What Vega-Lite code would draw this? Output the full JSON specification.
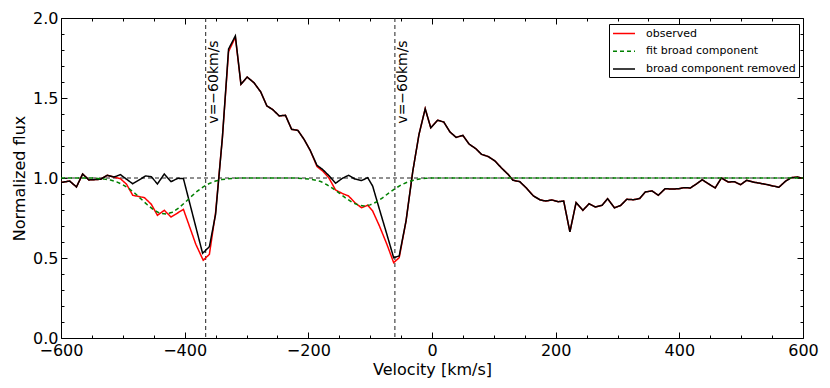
{
  "$schema": "https://vega.github.io/schema/vega-lite/v6.json",
  "width": 742,
  "height": 320,
  "autosize": {"type": "none"},
  "padding": {"left": 61, "top": 18, "right": 27, "bottom": 50},
  "background": "white",
  "config": {
    "view": {"stroke": "black", "strokeWidth": 1},
    "font": "DejaVu Sans",
    "axis": {"grid": false, "domain": false, "tickColor": "black", "tickWidth": 1, "labelColor": "black", "titleColor": "black", "labelFont": "DejaVu Sans", "titleFont": "DejaVu Sans", "labelFontSize": 16, "titleFontSize": 16, "titleFontWeight": "normal", "labelFlush": false, "labelOverlap": false}
  },
  "data": {"values": [
    {"s":"vline","v":-366,"ty":1.6,"label":"v=−60km/s"},
    {"s":"vline","v":-60,"ty":1.6,"label":"v=−60km/s"},
    {"s":"hline","f":1},

    {"s":"broad component removed","v":-600,"f":0.972},
    {"s":"broad component removed","v":-586,"f":0.981},
    {"s":"broad component removed","v":-575,"f":0.944},
    {"s":"broad component removed","v":-565,"f":1.025},
    {"s":"broad component removed","v":-555,"f":0.988},
    {"s":"broad component removed","v":-536,"f":0.992},
    {"s":"broad component removed","v":-525,"f":1.017},
    {"s":"broad component removed","v":-514,"f":1.006},
    {"s":"broad component removed","v":-504,"f":1.021},
    {"s":"broad component removed","v":-484,"f":0.964},
    {"s":"broad component removed","v":-463,"f":1.013},
    {"s":"broad component removed","v":-454,"f":1.008},
    {"s":"broad component removed","v":-444,"f":0.963},
    {"s":"broad component removed","v":-433,"f":1.025},
    {"s":"broad component removed","v":-422,"f":0.977},
    {"s":"broad component removed","v":-411,"f":0.998},
    {"s":"broad component removed","v":-402,"f":0.996},
    {"s":"broad component removed","v":-371,"f":0.529},
    {"s":"broad component removed","v":-360,"f":0.571},
    {"s":"broad component removed","v":-350,"f":0.773},
    {"s":"broad component removed","v":-339,"f":1.252},
    {"s":"broad component removed","v":-329,"f":1.806},
    {"s":"broad component removed","v":-318,"f":1.888},
    {"s":"broad component removed","v":-309,"f":1.586},
    {"s":"broad component removed","v":-299,"f":1.631},
    {"s":"broad component removed","v":-288,"f":1.596},
    {"s":"broad component removed","v":-277,"f":1.538},
    {"s":"broad component removed","v":-267,"f":1.45},
    {"s":"broad component removed","v":-258,"f":1.429},
    {"s":"broad component removed","v":-247,"f":1.388},
    {"s":"broad component removed","v":-237,"f":1.392},
    {"s":"broad component removed","v":-227,"f":1.304},
    {"s":"broad component removed","v":-217,"f":1.298},
    {"s":"broad component removed","v":-207,"f":1.242},
    {"s":"broad component removed","v":-197,"f":1.173},
    {"s":"broad component removed","v":-186,"f":1.079},
    {"s":"broad component removed","v":-177,"f":1.054},
    {"s":"broad component removed","v":-167,"f":1.016},
    {"s":"broad component removed","v":-156,"f":0.967},
    {"s":"broad component removed","v":-145,"f":0.998},
    {"s":"broad component removed","v":-135,"f":1.017},
    {"s":"broad component removed","v":-125,"f":0.994},
    {"s":"broad component removed","v":-114,"f":0.984},
    {"s":"broad component removed","v":-104,"f":1.002},
    {"s":"broad component removed","v":-96,"f":0.95},
    {"s":"broad component removed","v":-85,"f":0.804},
    {"s":"broad component removed","v":-73,"f":0.648},
    {"s":"broad component removed","v":-62,"f":0.502},
    {"s":"broad component removed","v":-53,"f":0.513},
    {"s":"broad component removed","v":-42,"f":0.731},
    {"s":"broad component removed","v":-31,"f":1.044},
    {"s":"broad component removed","v":-21,"f":1.273},
    {"s":"broad component removed","v":-11,"f":1.433},
    {"s":"broad component removed","v":-2,"f":1.314},
    {"s":"broad component removed","v":9,"f":1.361},
    {"s":"broad component removed","v":19,"f":1.35},
    {"s":"broad component removed","v":29,"f":1.288},
    {"s":"broad component removed","v":39,"f":1.254},
    {"s":"broad component removed","v":50,"f":1.266},
    {"s":"broad component removed","v":60,"f":1.212},
    {"s":"broad component removed","v":71,"f":1.183},
    {"s":"broad component removed","v":80,"f":1.148},
    {"s":"broad component removed","v":91,"f":1.134},
    {"s":"broad component removed","v":102,"f":1.106},
    {"s":"broad component removed","v":112,"f":1.064},
    {"s":"broad component removed","v":123,"f":1.023},
    {"s":"broad component removed","v":131,"f":0.986},
    {"s":"broad component removed","v":142,"f":0.977},
    {"s":"broad component removed","v":153,"f":0.936},
    {"s":"broad component removed","v":164,"f":0.888},
    {"s":"broad component removed","v":175,"f":0.863},
    {"s":"broad component removed","v":184,"f":0.856},
    {"s":"broad component removed","v":194,"f":0.863},
    {"s":"broad component removed","v":204,"f":0.852},
    {"s":"broad component removed","v":213,"f":0.856},
    {"s":"broad component removed","v":223,"f":0.663},
    {"s":"broad component removed","v":233,"f":0.846},
    {"s":"broad component removed","v":244,"f":0.798},
    {"s":"broad component removed","v":254,"f":0.839},
    {"s":"broad component removed","v":264,"f":0.819},
    {"s":"broad component removed","v":275,"f":0.829},
    {"s":"broad component removed","v":284,"f":0.871},
    {"s":"broad component removed","v":295,"f":0.814},
    {"s":"broad component removed","v":305,"f":0.828},
    {"s":"broad component removed","v":315,"f":0.867},
    {"s":"broad component removed","v":326,"f":0.864},
    {"s":"broad component removed","v":336,"f":0.872},
    {"s":"broad component removed","v":345,"f":0.913},
    {"s":"broad component removed","v":356,"f":0.919},
    {"s":"broad component removed","v":366,"f":0.892},
    {"s":"broad component removed","v":377,"f":0.933},
    {"s":"broad component removed","v":388,"f":0.931},
    {"s":"broad component removed","v":399,"f":0.933},
    {"s":"broad component removed","v":407,"f":0.939},
    {"s":"broad component removed","v":418,"f":0.938},
    {"s":"broad component removed","v":428,"f":0.964},
    {"s":"broad component removed","v":437,"f":0.989},
    {"s":"broad component removed","v":447,"f":0.964},
    {"s":"broad component removed","v":458,"f":0.938},
    {"s":"broad component removed","v":468,"f":1.0},
    {"s":"broad component removed","v":479,"f":0.975},
    {"s":"broad component removed","v":489,"f":0.977},
    {"s":"broad component removed","v":499,"f":0.958},
    {"s":"broad component removed","v":509,"f":0.986},
    {"s":"broad component removed","v":519,"f":0.975},
    {"s":"broad component removed","v":539,"f":0.961},
    {"s":"broad component removed","v":561,"f":0.942},
    {"s":"broad component removed","v":572,"f":0.981},
    {"s":"broad component removed","v":581,"f":1.002},
    {"s":"broad component removed","v":591,"f":1.006},
    {"s":"broad component removed","v":600,"f":0.998},

    {"s":"observed","v":-600,"f":0.972},
    {"s":"observed","v":-586,"f":0.981},
    {"s":"observed","v":-575,"f":0.944},
    {"s":"observed","v":-565,"f":1.025},
    {"s":"observed","v":-555,"f":0.988},
    {"s":"observed","v":-536,"f":0.992},
    {"s":"observed","v":-525,"f":1.017},
    {"s":"observed","v":-514,"f":1.006},
    {"s":"observed","v":-504,"f":0.996},
    {"s":"observed","v":-494,"f":0.961},
    {"s":"observed","v":-484,"f":0.892},
    {"s":"observed","v":-465,"f":0.877},
    {"s":"observed","v":-454,"f":0.836},
    {"s":"observed","v":-444,"f":0.767},
    {"s":"observed","v":-433,"f":0.798},
    {"s":"observed","v":-422,"f":0.756},
    {"s":"observed","v":-402,"f":0.804},
    {"s":"observed","v":-382,"f":0.586},
    {"s":"observed","v":-370,"f":0.486},
    {"s":"observed","v":-360,"f":0.523},
    {"s":"observed","v":-350,"f":0.783},
    {"s":"observed","v":-339,"f":1.252},
    {"s":"observed","v":-329,"f":1.79},
    {"s":"observed","v":-318,"f":1.88},
    {"s":"observed","v":-309,"f":1.586},
    {"s":"observed","v":-299,"f":1.631},
    {"s":"observed","v":-288,"f":1.596},
    {"s":"observed","v":-277,"f":1.538},
    {"s":"observed","v":-267,"f":1.45},
    {"s":"observed","v":-258,"f":1.429},
    {"s":"observed","v":-247,"f":1.388},
    {"s":"observed","v":-237,"f":1.392},
    {"s":"observed","v":-227,"f":1.304},
    {"s":"observed","v":-217,"f":1.298},
    {"s":"observed","v":-207,"f":1.242},
    {"s":"observed","v":-197,"f":1.173},
    {"s":"observed","v":-186,"f":1.072},
    {"s":"observed","v":-177,"f":1.044},
    {"s":"observed","v":-167,"f":1.002},
    {"s":"observed","v":-156,"f":0.925},
    {"s":"observed","v":-145,"f":0.903},
    {"s":"observed","v":-135,"f":0.888},
    {"s":"observed","v":-125,"f":0.847},
    {"s":"observed","v":-114,"f":0.814},
    {"s":"observed","v":-104,"f":0.83},
    {"s":"observed","v":-96,"f":0.794},
    {"s":"observed","v":-85,"f":0.7},
    {"s":"observed","v":-73,"f":0.586},
    {"s":"observed","v":-62,"f":0.471},
    {"s":"observed","v":-53,"f":0.502},
    {"s":"observed","v":-42,"f":0.731},
    {"s":"observed","v":-31,"f":1.044},
    {"s":"observed","v":-21,"f":1.273},
    {"s":"observed","v":-11,"f":1.433},
    {"s":"observed","v":-2,"f":1.314},
    {"s":"observed","v":9,"f":1.361},
    {"s":"observed","v":19,"f":1.35},
    {"s":"observed","v":29,"f":1.288},
    {"s":"observed","v":39,"f":1.254},
    {"s":"observed","v":50,"f":1.266},
    {"s":"observed","v":60,"f":1.212},
    {"s":"observed","v":71,"f":1.183},
    {"s":"observed","v":80,"f":1.148},
    {"s":"observed","v":91,"f":1.134},
    {"s":"observed","v":102,"f":1.106},
    {"s":"observed","v":112,"f":1.064},
    {"s":"observed","v":123,"f":1.023},
    {"s":"observed","v":131,"f":0.986},
    {"s":"observed","v":142,"f":0.977},
    {"s":"observed","v":153,"f":0.936},
    {"s":"observed","v":164,"f":0.888},
    {"s":"observed","v":175,"f":0.863},
    {"s":"observed","v":184,"f":0.856},
    {"s":"observed","v":194,"f":0.863},
    {"s":"observed","v":204,"f":0.852},
    {"s":"observed","v":213,"f":0.856},
    {"s":"observed","v":223,"f":0.663},
    {"s":"observed","v":233,"f":0.846},
    {"s":"observed","v":244,"f":0.798},
    {"s":"observed","v":254,"f":0.839},
    {"s":"observed","v":264,"f":0.819},
    {"s":"observed","v":275,"f":0.829},
    {"s":"observed","v":284,"f":0.871},
    {"s":"observed","v":295,"f":0.814},
    {"s":"observed","v":305,"f":0.828},
    {"s":"observed","v":315,"f":0.867},
    {"s":"observed","v":326,"f":0.864},
    {"s":"observed","v":336,"f":0.872},
    {"s":"observed","v":345,"f":0.913},
    {"s":"observed","v":356,"f":0.919},
    {"s":"observed","v":366,"f":0.892},
    {"s":"observed","v":377,"f":0.933},
    {"s":"observed","v":388,"f":0.931},
    {"s":"observed","v":399,"f":0.933},
    {"s":"observed","v":407,"f":0.939},
    {"s":"observed","v":418,"f":0.938},
    {"s":"observed","v":428,"f":0.964},
    {"s":"observed","v":437,"f":0.989},
    {"s":"observed","v":447,"f":0.964},
    {"s":"observed","v":458,"f":0.938},
    {"s":"observed","v":468,"f":1.0},
    {"s":"observed","v":479,"f":0.975},
    {"s":"observed","v":489,"f":0.977},
    {"s":"observed","v":499,"f":0.958},
    {"s":"observed","v":509,"f":0.986},
    {"s":"observed","v":519,"f":0.975},
    {"s":"observed","v":539,"f":0.961},
    {"s":"observed","v":561,"f":0.942},
    {"s":"observed","v":572,"f":0.981},
    {"s":"observed","v":581,"f":1.002},
    {"s":"observed","v":591,"f":1.006},
    {"s":"observed","v":600,"f":0.998},

    {"s":"fit broad component","v":-600,"f":1.0},
    {"s":"fit broad component","v":-550,"f":1.0},
    {"s":"fit broad component","v":-540,"f":0.997},
    {"s":"fit broad component","v":-530,"f":0.993},
    {"s":"fit broad component","v":-520,"f":0.987},
    {"s":"fit broad component","v":-510,"f":0.976},
    {"s":"fit broad component","v":-500,"f":0.958},
    {"s":"fit broad component","v":-490,"f":0.934},
    {"s":"fit broad component","v":-480,"f":0.903},
    {"s":"fit broad component","v":-470,"f":0.867},
    {"s":"fit broad component","v":-460,"f":0.831},
    {"s":"fit broad component","v":-450,"f":0.8},
    {"s":"fit broad component","v":-440,"f":0.78},
    {"s":"fit broad component","v":-430,"f":0.775},
    {"s":"fit broad component","v":-420,"f":0.786},
    {"s":"fit broad component","v":-410,"f":0.811},
    {"s":"fit broad component","v":-400,"f":0.845},
    {"s":"fit broad component","v":-390,"f":0.882},
    {"s":"fit broad component","v":-380,"f":0.916},
    {"s":"fit broad component","v":-370,"f":0.945},
    {"s":"fit broad component","v":-360,"f":0.966},
    {"s":"fit broad component","v":-350,"f":0.981},
    {"s":"fit broad component","v":-340,"f":0.99},
    {"s":"fit broad component","v":-330,"f":0.995},
    {"s":"fit broad component","v":-320,"f":0.998},
    {"s":"fit broad component","v":-310,"f":1.0},
    {"s":"fit broad component","v":-220,"f":1.0},
    {"s":"fit broad component","v":-210,"f":0.997},
    {"s":"fit broad component","v":-200,"f":0.994},
    {"s":"fit broad component","v":-190,"f":0.988},
    {"s":"fit broad component","v":-180,"f":0.978},
    {"s":"fit broad component","v":-170,"f":0.958},
    {"s":"fit broad component","v":-160,"f":0.933},
    {"s":"fit broad component","v":-150,"f":0.906},
    {"s":"fit broad component","v":-140,"f":0.876},
    {"s":"fit broad component","v":-130,"f":0.85},
    {"s":"fit broad component","v":-120,"f":0.832},
    {"s":"fit broad component","v":-110,"f":0.825},
    {"s":"fit broad component","v":-100,"f":0.832},
    {"s":"fit broad component","v":-90,"f":0.85},
    {"s":"fit broad component","v":-80,"f":0.876},
    {"s":"fit broad component","v":-70,"f":0.906},
    {"s":"fit broad component","v":-60,"f":0.933},
    {"s":"fit broad component","v":-50,"f":0.956},
    {"s":"fit broad component","v":-40,"f":0.974},
    {"s":"fit broad component","v":-30,"f":0.986},
    {"s":"fit broad component","v":-20,"f":0.994},
    {"s":"fit broad component","v":-10,"f":0.998},
    {"s":"fit broad component","v":0,"f":1.0},
    {"s":"fit broad component","v":600,"f":1.0}
  ]},
  "resolve": {"axis": {"x": "independent", "y": "independent"}},
  "layer": [
    {
      "transform": [{"filter": "datum.s === 'vline'"}],
      "mark": {"type": "rule", "color": "#222222", "strokeWidth": 1, "strokeDash": [4, 3]},
      "encoding": {
        "x": {"field": "v", "type": "quantitative", "scale": {"domain": [-600, 600], "nice": false, "zero": false},
          "axis": {"orient": "top", "values": [-600, -400, -200, 0, 200, 400, 600], "tickSize": -6, "labels": false, "title": null}}
      }
    },
    {
      "transform": [{"filter": "datum.s === 'hline'"}],
      "mark": {"type": "rule", "color": "#222222", "strokeWidth": 1, "strokeDash": [4, 3]},
      "encoding": {
        "y": {"field": "f", "type": "quantitative", "scale": {"domain": [0, 2], "nice": false, "zero": false},
          "axis": {"orient": "right", "values": [0, 0.5, 1, 1.5, 2], "tickSize": -6, "labels": false, "title": null}}
      }
    },
    {
      "transform": [{"filter": "datum.s === 'observed'"}],
      "mark": {"type": "line", "strokeWidth": 1.5},
      "encoding": {
        "x": {"field": "v", "type": "quantitative", "scale": {"domain": [-600, 600], "nice": false, "zero": false},
          "axis": {"orient": "bottom", "values": [-600, -400, -200, 0, 200, 400, 600], "tickSize": -6, "labelPadding": 10, "title": "Velocity [km/s]", "titlePadding": 3}},
        "y": {"field": "f", "type": "quantitative", "scale": {"domain": [0, 2], "nice": false, "zero": false},
          "axis": {"orient": "left", "values": [0, 0.5, 1, 1.5, 2], "format": ".1f", "tickSize": -6, "labelPadding": 9, "title": "Normalized flux", "titlePadding": 5}},
        "color": {"field": "s", "type": "nominal",
          "scale": {"domain": ["observed", "fit broad component", "broad component removed"], "range": ["#ff0000", "#008000", "#000000"]},
          "legend": {"orient": "none", "legendX": 548, "legendY": 6, "title": null, "symbolType": "M-1,0H3", "symbolSize": 121, "symbolStrokeWidth": 1.5, "labelFontSize": 11, "labelFont": "DejaVu Sans", "labelColor": "black", "strokeColor": "black", "fillColor": "white", "padding": 3, "rowPadding": 5.7, "labelOffset": 21, "cornerRadius": 0}},
        "strokeDash": {"field": "s", "type": "nominal",
          "scale": {"domain": ["observed", "fit broad component", "broad component removed"], "range": [[1, 0], [4, 3], [1, 0]]}}
      }
    },
    {
      "transform": [{"filter": "datum.s === 'broad component removed'"}],
      "mark": {"type": "line", "strokeWidth": 1.5},
      "encoding": {
        "x": {"field": "v", "type": "quantitative", "scale": {"domain": [-600, 600], "nice": false, "zero": false},
          "axis": {"orient": "bottom", "values": [-550, -500, -450, -350, -300, -250, -150, -100, -50, 50, 100, 150, 250, 300, 350, 450, 500, 550], "tickSize": -3, "labels": false, "title": null}},
        "y": {"field": "f", "type": "quantitative", "scale": {"domain": [0, 2], "nice": false, "zero": false},
          "axis": {"orient": "left", "values": [0.1, 0.2, 0.3, 0.4, 0.6, 0.7, 0.8, 0.9, 1.1, 1.2, 1.3, 1.4, 1.6, 1.7, 1.8, 1.9], "tickSize": -3, "labels": false, "title": null}},
        "color": {"field": "s", "type": "nominal"},
        "strokeDash": {"field": "s", "type": "nominal"}
      }
    },
    {
      "transform": [{"filter": "datum.s === 'fit broad component'"}],
      "mark": {"type": "line", "strokeWidth": 1.5},
      "encoding": {
        "x": {"field": "v", "type": "quantitative", "scale": {"domain": [-600, 600], "nice": false, "zero": false},
          "axis": {"orient": "top", "values": [-550, -500, -450, -350, -300, -250, -150, -100, -50, 50, 100, 150, 250, 300, 350, 450, 500, 550], "tickSize": -3, "labels": false, "title": null}},
        "y": {"field": "f", "type": "quantitative", "scale": {"domain": [0, 2], "nice": false, "zero": false},
          "axis": {"orient": "right", "values": [0.1, 0.2, 0.3, 0.4, 0.6, 0.7, 0.8, 0.9, 1.1, 1.2, 1.3, 1.4, 1.6, 1.7, 1.8, 1.9], "tickSize": -3, "labels": false, "title": null}},
        "color": {"field": "s", "type": "nominal"},
        "strokeDash": {"field": "s", "type": "nominal"}
      }
    },
    {
      "transform": [{"filter": "datum.s === 'vline'"}],
      "mark": {"type": "text", "angle": 270, "align": "center", "baseline": "middle", "dy": 8, "fontSize": 14, "font": "DejaVu Sans", "color": "black"},
      "encoding": {
        "x": {"field": "v", "type": "quantitative", "axis": null},
        "y": {"field": "ty", "type": "quantitative", "axis": null},
        "text": {"field": "label"}
      }
    }
  ]
}
